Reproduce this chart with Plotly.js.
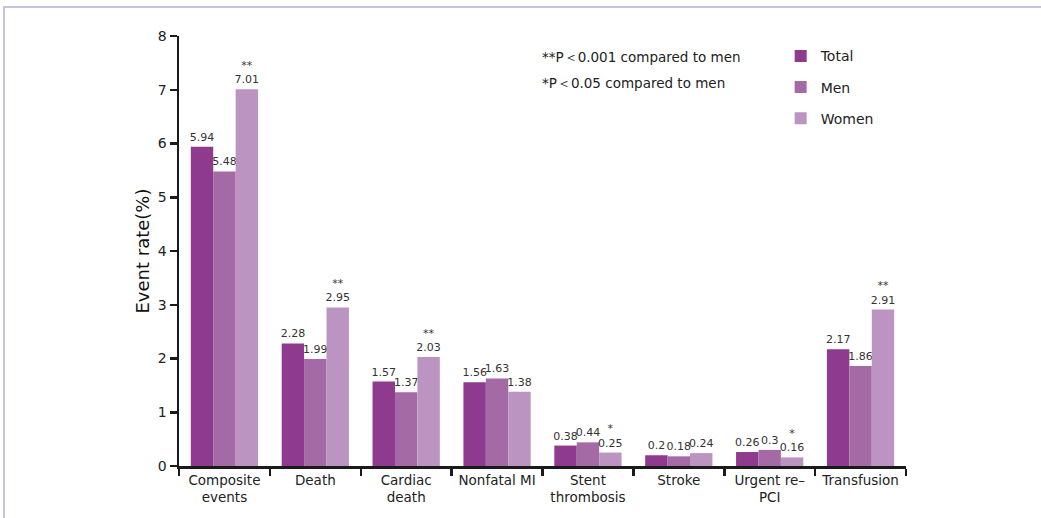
<!DOCTYPE html>
<html>
<head>
<meta charset="utf-8">
<script src="https://cdn.plot.ly/plotly-3.0.1.min.js"></script>
<style>
  html, body { margin: 0; padding: 0; background: #ffffff; }
  #chart { position: absolute; left: 0; top: 0; width: 1041px; height: 518px; }
  #frame { position: absolute; left: 3px; top: 6px; width: 1100px; height: 600px;
           border-left: 2px solid #cbbfe0; border-top: 2px solid #cbbfe0; pointer-events: none; }
</style>
</head>
<body>
<div id="chart"></div>
<div id="frame"></div>
<script>
const categories = ["Composite<br>events", "Death", "Cardiac<br>death", "Nonfatal MI",
                    "Stent<br>thrombosis", "Stroke", "Urgent re–<br>PCI", "Transfusion"];
const seriesNames = ["Total", "Men", "Women"];
const totalValues = [5.94, 2.28, 1.57, 1.56, 0.38, 0.20, 0.26, 2.17];
const menValues   = [5.48, 1.99, 1.37, 1.63, 0.44, 0.18, 0.30, 1.86];
const womenValues = [7.01, 2.95, 2.03, 1.38, 0.25, 0.24, 0.16, 2.91];
const womenMarks  = ["**", "**", "**", "", "*", "", "*", "**"];
const yTicks = [0, 1, 2, 3, 4, 5, 6, 7, 8];
const notes = ["**P＜0.001 compared to men", "*P＜0.05 compared to men"];

const colors = ["#8e3a8e", "#a36aa6", "#bb94c2"];
const fontFam = "DejaVu Sans, Liberation Sans, sans-serif";

function fmt(v) { return String(v); }

function mkTrace(name, vals, color, marks, grp) {
  return {
    type: "bar",
    name: name,
    x: categories,
    y: vals,
    marker: { color: color, line: { width: 0 } },
    text: vals.map((v, i) => (marks && marks[i] ? marks[i] + "<br>" : "") + fmt(v)),
    textposition: "outside",
    textfont: { family: fontFam, size: 11, color: "#333333" },
    constraintext: "none",
    cliponaxis: false,
    legendgroup: grp,
    hoverinfo: "x+y+name"
  };
}

const data = [
  mkTrace(seriesNames[0], totalValues, colors[0], null, "g1"),
  mkTrace(seriesNames[1], menValues, colors[1], null, "g2"),
  mkTrace(seriesNames[2], womenValues, colors[2], womenMarks, "g3")
];

const layout = {
  width: 1041,
  height: 518,
  margin: { l: 179, r: 135, t: 36, b: 52 },
  paper_bgcolor: "rgba(0,0,0,0)",
  plot_bgcolor: "rgba(0,0,0,0)",
  font: { family: fontFam, color: "#222222" },
  barmode: "group",
  bargap: 0.26,
  bargroupgap: 0,
  showlegend: true,
  legend: {
    x: 0.8276, y: 0.99, xanchor: "left", yanchor: "top",
    font: { family: fontFam, size: 14, color: "#222222" },
    tracegroupgap: 10,
    bgcolor: "rgba(0,0,0,0)"
  },
  xaxis: {
    type: "category",
    showline: true, linecolor: "#1a1a1a", linewidth: 2.5,
    ticks: "outside", tickson: "boundaries", ticklen: 7, tickwidth: 2.5, tickcolor: "#1a1a1a",
    tickfont: { family: fontFam, size: 13.5, color: "#222222" },
    showgrid: false, zeroline: false, fixedrange: true
  },
  yaxis: {
    range: [0, 8],
    tickvals: yTicks,
    ticktext: yTicks.map(String),
    showline: true, linecolor: "#1a1a1a", linewidth: 2.5,
    ticks: "outside", ticklen: 7, tickwidth: 2.5, tickcolor: "#1a1a1a",
    tickfont: { family: fontFam, size: 14, color: "#222222" },
    showgrid: false, zeroline: false,
    title: { text: "Event rate(%)", font: { family: fontFam, size: 18, color: "#111111" }, standoff: 4 }
  },
  annotations: notes.map((t, i) => ({
    text: t, xref: "paper", yref: "paper",
    x: 0.4966, y: i === 0 ? 0.951 : 0.891,
    xanchor: "left", yanchor: "middle", showarrow: false,
    font: { family: fontFam, size: 13.5, color: "#222222" }
  }))
};

Plotly.newPlot("chart", data, layout, { displayModeBar: false, staticPlot: true });
</script>
</body>
</html>
